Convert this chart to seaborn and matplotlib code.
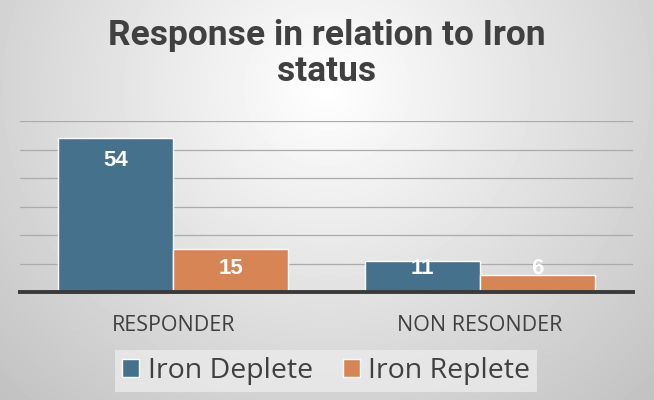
import numpy as np
import pandas as pd
import seaborn as sns
import matplotlib.pyplot as plt

# chart data
categories = ['RESPONDER', 'NON RESONDER']
status = ['Iron Deplete', 'Iron Replete']
deplete = [54, 11]
replete = [15, 6]
colors = ['#46718C', '#D88555']

df = pd.DataFrame({
    'category': categories * 2,
    'status': [status[0]] * 2 + [status[1]] * 2,
    'value': deplete + replete,
})

sns.set_style('white')
plt.rcParams['font.family'] = ['Open Sans', 'DejaVu Sans']

fig = plt.figure(figsize=(6.54, 4.0), dpi=100)

# soft grey background gradient
bg = fig.add_axes([0, 0, 1, 1], zorder=-10)
yy, xx = np.mgrid[0:1:400j, 0:1:654j]
r = np.sqrt(((xx - 0.5) / 0.62) ** 2 + ((yy - 0.22) / 0.95) ** 2)
shade = 1.0 - 0.21 * np.clip(r, 0, 1.2)
bg.imshow(shade, cmap='gray', vmin=0, vmax=1, aspect='auto', extent=[0, 1, 1, 0])
bg.axis('off')

ax = fig.add_axes([0.0306, 0.27, 0.9375, 0.4275])
ax.set_facecolor('none')
sns.barplot(data=df, x='category', y='value', hue='status', palette=colors,
            width=0.75, saturation=1, ax=ax, legend=True, zorder=3)
ax.set_xlim(-0.5, 1.5)
ax.set_ylim(0, 60)
ax.set_yticks(range(0, 61, 10))
ax.yaxis.grid(True, color='#ababab', lw=0.9, zorder=0)
ax.set_axisbelow(True)
ax.tick_params(axis='y', left=False, labelleft=False)
ax.tick_params(axis='x', bottom=False, pad=13, labelsize=15.5, labelcolor='#404040')
ax.set_xlabel('')
ax.set_ylabel('')
for s in ['left', 'right', 'top']:
    ax.spines[s].set_visible(False)
ax.spines['bottom'].set_color('#3a3a3a')
ax.spines['bottom'].set_linewidth(2.8)
ax.spines['bottom'].set_zorder(5)

# value labels inside bars
for cont in ax.containers:
    for bar in cont:
        v = bar.get_height()
        xc = bar.get_x() + bar.get_width() / 2
        ax.text(xc, max(v - 7.7, 8.2), f'{v:.0f}', ha='center', va='center',
                color='white', fontsize=16, fontweight='bold',
                family=['Liberation Sans', 'DejaVu Sans'], zorder=6)

handles, labels = ax.get_legend_handles_labels()
ax.get_legend().remove()
leg = fig.legend(handles, labels, loc='center', bbox_to_anchor=(0.4985, 0.0725),
                 ncol=2, frameon=True, fontsize=20.5, handlelength=0.6,
                 handleheight=0.6, handletextpad=0.3, columnspacing=1.05,
                 borderpad=0.25, fancybox=False)
leg.get_frame().set_facecolor('#ebebeb')
leg.get_frame().set_edgecolor('none')
for t in leg.get_texts():
    t.set_color('#404040')

fig.text(0.5, 0.952, 'Response in relation to Iron\nstatus', ha='center', va='top',
         fontsize=25.5, fontweight='bold', color='#404040', linespacing=1.12,
         family=['Roboto', 'DejaVu Sans'])

fig.savefig('out.png', dpi=100)
